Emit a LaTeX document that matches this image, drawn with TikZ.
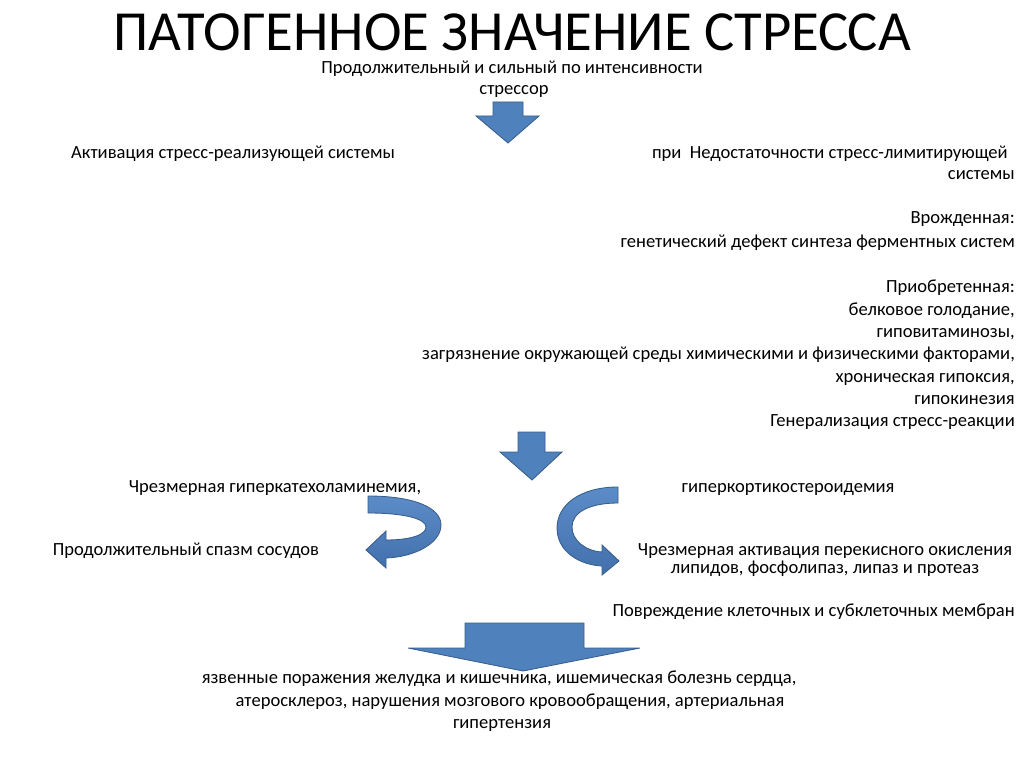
\documentclass[tikz,border=0pt]{standalone}
\usepackage{fontspec}
\setmainfont{Carlito}
\begin{document}
\begin{tikzpicture}[x=0.025cm,y=-0.025cm,
    txt/.style={font=\fontsize{13.2}{15}\selectfont, inner sep=0pt, anchor=base},
    rtxt/.style={txt, anchor=base east},
    blockarrow/.style={fill={rgb,255:red,79;green,129;blue,189}, draw={rgb,255:red,56;green,93;blue,138}, line width=0.6pt, line join=miter},
    bentarrow/.style={draw={rgb,255:red,56;green,93;blue,138}, line width=0.6pt, top color={rgb,255:red,92;green,140;blue,200}, bottom color={rgb,255:red,66;green,112;blue,172}}]
    \useasboundingbox (0,0) rectangle (1024,767);
    % title
    \node[font=\fontsize{40.3}{46}\selectfont, inner sep=0pt, anchor=base, text depth=0pt] (title) at (512,51) {ПАТОГЕННОЕ ЗНАЧЕНИЕ СТРЕССА};
    % stressor
    \node[txt] (stressor1) at (512,74) {Продолжительный и сильный по интенсивности};
    \node[txt] (stressor2) at (514,95) {стрессор};
    \draw[blockarrow] (493,102) -- (523,102) -- (523,116) -- (539,116) -- (508,143) -- (476,116) -- (493,116) -- cycle;
    % two systems
    \node[txt] (activ) at (233,159) {Активация стресс-реализующей системы};
    \node[rtxt] (insuf1) at (1008,159) {при\ \ Недостаточности стресс-лимитирующей};
    \node[rtxt] (insuf2) at (1015,180) {системы};
    \node[rtxt] (congen1) at (1015,224) {Врожденная:};
    \node[rtxt] (congen2) at (1015,247) {генетический дефект синтеза ферментных систем};
    \node[rtxt] (acq1) at (1015,292) {Приобретенная:};
    \node[rtxt] (acq2) at (1015,315) {белковое голодание,};
    \node[rtxt] (acq3) at (1015,337) {гиповитаминозы,};
    \node[rtxt] (acq4) at (1015,359) {загрязнение окружающей среды химическими и физическими факторами,};
    \node[rtxt] (acq5) at (1015,382) {хроническая гипоксия,};
    \node[rtxt] (acq6) at (1015,404) {гипокинезия};
    \node[rtxt] (general) at (1015,426) {Генерализация стресс-реакции};
    \draw[blockarrow] (518,432) -- (545,432) -- (545,452) -- (562,452) -- (532,480) -- (500,452) -- (518,452) -- cycle;
    % hormones
    \node[txt] (catech) at (275,492) {Чрезмерная гиперкатехоламинемия,};
    \node[txt] (cortic) at (788,492) {гиперкортикостероидемия};
    % left bent arrow
    \path[bentarrow] (368,496) .. controls (415,496) and (441,508) .. (441,525)
        .. controls (441,543) and (415,557) .. (386,558)
        -- (386,568) -- (366,550) -- (386,531) -- (386,540)
        .. controls (410,540) and (426,535) .. (426,527)
        .. controls (426,519) and (405,513) .. (368,513) -- cycle;
    \node[txt] (spasm) at (186,555) {Продолжительный спазм сосудов};
    % right bent arrow
    \path[bentarrow] (618,487) .. controls (580,487) and (557,505) .. (557,528)
        .. controls (557,552) and (580,565) .. (602,566)
        -- (602,575) -- (619,561) -- (602,545) -- (602,552)
        .. controls (585,551) and (572,540) .. (572,527)
        .. controls (572,512) and (590,503) .. (618,503) -- cycle;
    \node[txt] (perox1) at (825,555) {Чрезмерная активация\ перекисного окисления};
    \node[txt] (perox2) at (825,573) {липидов, фосфолипаз, липаз и протеаз};
    \node[rtxt] (membr) at (1015,616) {Повреждение клеточных и субклеточных мембран};
    % big arrow
    \draw[blockarrow] (465,623) -- (584,623) -- (584,648) -- (640,648) -- (523,671) -- (408,648) -- (465,648) -- cycle;
    % diseases
    \node[txt] (dis1) at (499,683) {язвенные поражения желудка и кишечника, ишемическая болезнь сердца,};
    \node[txt] (dis2) at (510,706) {атеросклероз, нарушения мозгового кровообращения, артериальная};
    \node[txt] (dis3) at (502,728) {гипертензия};
\end{tikzpicture}
\end{document}
